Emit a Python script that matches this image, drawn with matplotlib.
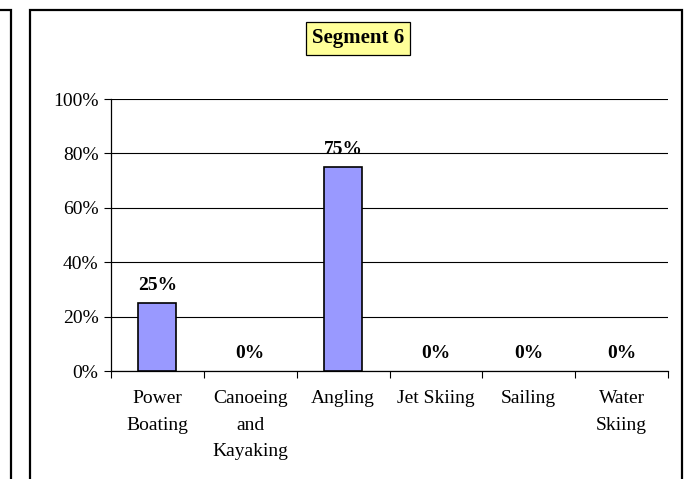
import matplotlib
matplotlib.use("Agg")
import matplotlib.pyplot as plt
from matplotlib.patches import Rectangle

categories = ["Power\nBoating", "Canoeing\nand\nKayaking", "Angling", "Jet Skiing", "Sailing", "Water\nSkiing"]
values = [25, 0, 75, 0, 0, 0]
title = "Segment 6"
yticks = [0, 20, 40, 60, 80, 100]

plt.rcParams['font.family'] = ['Liberation Serif', 'DejaVu Serif']

fig = plt.figure(figsize=(6.84, 4.79), dpi=100)
W, H = 684, 479

def fx(x): return x / W
def fy(y): return 1 - y / H

# outer frames
fig.patches.append(Rectangle((fx(-20), fy(500)), fx(31), (500 - 10) / H, transform=fig.transFigure,
                             fill=False, edgecolor='black', linewidth=1.6, clip_on=False))
fig.patches.append(Rectangle((fx(30), fy(500)), fx(682 - 30), (500 - 10) / H, transform=fig.transFigure,
                             fill=False, edgecolor='black', linewidth=1.6, clip_on=False))

ax = fig.add_axes([fx(111), fy(371), fx(668 - 111), (371 - 99) / H])
x = list(range(len(categories)))
ax.bar(x, values, width=0.41, color='#9999FF', edgecolor=['black' if v > 0 else 'none' for v in values],
       linewidth=1.2, zorder=3)
ax.set_xlim(-0.5, len(categories) - 0.5)
ax.set_ylim(0, 100)
ax.set_yticks(yticks)
ax.set_yticklabels([f"{v}%" for v in yticks], fontsize=14)
ax.yaxis.grid(True, color='black', linewidth=0.8)
ax.set_axisbelow(True)
ax.tick_params(axis='y', length=5, width=0.8, direction='out', pad=4)

ax.set_xticks(x)
ax.set_xticklabels(categories, fontsize=14, linespacing=1.72, va='top')
ax.set_xticks([i - 0.5 for i in range(len(categories) + 1)], minor=True)
ax.tick_params(axis='x', which='major', length=0, pad=14)
ax.tick_params(axis='x', which='minor', length=5, width=0.8, direction='out')

for s in ['top', 'right']:
    ax.spines[s].set_visible(False)
for s in ['left', 'bottom']:
    ax.spines[s].set_linewidth(0.9)

for xi, v in zip(x, values):
    ax.annotate(f"{v}%", (xi, v), xytext=(0, 18), textcoords='offset pixels',
                ha='center', va='center', fontsize=14, fontweight='bold')

fig.text(fx(358), fy(38.5), title, ha='center', va='center', fontsize=15, fontweight='bold',
         bbox=dict(boxstyle='square,pad=0.3', facecolor='#FFFF99', edgecolor='black', linewidth=0.9))

fig.savefig("out.png", dpi=100)
